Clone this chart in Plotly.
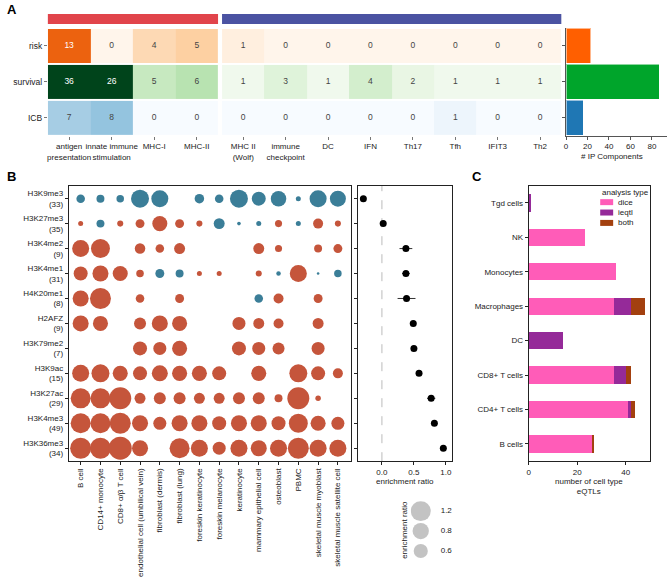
import math
import plotly.graph_objects as go
from plotly.colors import sequential as seq

W, H = 667, 577
FONT = "Liberation Sans, Arial, Helvetica, sans-serif"
INK = "#222222"


def fx(p):
    return p / W


def fy(p):
    return 1 - p / H


def ydom(top, bottom):
    return [fy(bottom), fy(top)]


# ---------------- Panel A data ----------------
sets_left = ["antigen<br>presentation", "innate immune<br>stimulation", "MHC-I", "MHC-II"]
sets_right = ["MHC II<br>(Wolf)", "immune<br>checkpoint", "DC", "IFN", "Th17", "Tfh", "IFIT3", "Th2"]
analyses = ["risk", "survival", "ICB"]
risk_counts = [13, 0, 4, 5, 1, 0, 0, 0, 0, 0, 0, 0]
survival_counts = [36, 26, 5, 6, 1, 3, 1, 4, 2, 1, 1, 1]
icb_counts = [7, 8, 0, 0, 0, 0, 0, 0, 0, 1, 0, 0]
analysis_colors = ["#ff5f00", "#00a52b", "#1f77b4"]
group_colors = ["#e1444b", "#4b53a2"]
ip_ticks = [0, 20, 40, 60, 80]

# ---------------- Panel B data ----------------
marks = ["H3K9me3", "H3K27me3", "H3K4me2", "H3K4me1", "H4K20me1", "H2AFZ",
         "H3K79me2", "H3K9ac", "H3K27ac", "H3K4me3", "H3K36me3"]
mark_counts = [33, 35, 9, 31, 8, 9, 7, 15, 29, 49, 34]
cell_types = ["B cell", "CD14+ monocyte", "CD8+ α/β T cell", "endothelial cell (umbilical vein)",
              "fibroblast (dermis)", "fibroblast (lung)", "foreskin keratinocyte", "foreskin melanocyte",
              "keratinocyte", "mammary epithelial cell", "osteoblast", "PBMC",
              "skeletal muscle myoblast", "skeletal muscle satellite cell"]
N = None
ratio_H3K9me3 = [-0.22, -0.19, -0.17, -0.97, -0.87, N, -0.27, -0.22, -0.97, -0.59, -0.72, -0.075, -0.87, -0.77]
ratio_H3K27me3 = [0.075, -0.19, 0.11, 0.24, 0.68, 0.24, 0.11, -0.36, -0.04, -0.075, 0.15, -0.075, 0.30, 0.11]
ratio_H3K4me2 = [0.87, 1.08, N, 0.33, 0.22, 0.36, N, N, N, 0.36, 0.15, N, 0.19, 0.24]
ratio_H3K4me1 = [0.59, 0.77, 0.68, 0.17, -0.24, -0.19, 0.075, 0.075, N, 0.11, -0.06, 0.87, -0.02, -0.17]
ratio_H4K20me1 = [0.77, 1.32, N, 0.22, N, 0.24, N, N, N, -0.22, 0.30, N, 0.24, N]
ratio_H2AFZ = [0.77, 0.68, N, 0.43, 0.77, 0.68, N, N, 0.51, 0.36, 0.30, N, 0.36, N]
ratio_H3K79me2 = [N, N, N, 0.59, 0.51, 0.68, N, N, 0.59, 0.51, 0.43, N, 0.51, N]
ratio_H3K9ac = [0.87, 0.97, 0.68, 0.59, 0.77, 0.68, 0.68, 0.59, N, 0.68, N, 0.97, 0.59, 0.30]
ratio_H3K27ac = [1.2, 1.2, 1.45, 0.36, 0.43, 0.43, 0.36, 0.36, 0.43, 0.43, 0.19, 1.45, 0.09, N]
ratio_H3K4me3 = [1.2, 1.2, 1.32, 0.77, 0.51, 0.77, 0.77, 0.59, 0.77, 0.77, 0.59, 1.08, 0.68, 0.51]
ratio_H3K36me3 = [1.32, 1.32, 1.59, 0.77, N, 1.2, 0.87, 0.51, 0.87, 0.77, 0.87, 1.32, 0.87, 0.87]
ratio_rows = [ratio_H3K9me3, ratio_H3K27me3, ratio_H3K4me2, ratio_H3K4me1, ratio_H4K20me1,
              ratio_H2AFZ, ratio_H3K79me2, ratio_H3K9ac, ratio_H3K27ac, ratio_H3K4me3, ratio_H3K36me3]
enrichment = [-0.29, 0.02, 0.375, 0.375, 0.385, 0.49, 0.50, 0.58, 0.77, 0.82, 0.96]
enrichment_err = [0.02, 0.02, 0.10, 0.06, 0.14, 0.03, 0.03, 0.03, 0.065, 0.03, 0.02]
legend_ratios = [1.2, 0.8, 0.6]
enrich_ticks = [0.0, 0.5, 1.0]

# ---------------- Panel C data ----------------
immune_cells = ["Tgd cells", "NK", "Monocytes", "Macrophages", "DC", "CD8+ T cells", "CD4+ T cells", "B cells"]
analysis_types = ["dice", "ieqtl", "both"]
dice_counts = [0, 23, 36, 35, 0, 35, 41, 26]
ieqtl_counts = [1, 0, 0, 7, 14, 5, 1, 0]
both_counts = [0, 0, 0, 6, 0, 2, 2, 1]
type_colors = ["#ff5cb8", "#952a99", "#a3400f"]
eqtl_ticks = [0, 20, 40]

RED = "#c5553b"
TEAL = "#3b7e98"


def dot_diam(r):
    return 20.0 * math.sqrt(abs(r) / 1.2)


fig = go.Figure()

# ---------- A: heatmaps ----------
ZMAX = 20
row_specs = [(analyses[0], risk_counts, seq.Oranges, 2),
             (analyses[1], survival_counts, seq.Greens, 1),
             (analyses[2], icb_counts, seq.Blues, 0)]
for name, vals, cmap, yi in row_specs:
    cs = [[i / (len(cmap) - 1), c] for i, c in enumerate(cmap)]
    for xa, cats, part in (("x", sets_left, vals[:4]), ("x2", sets_right, vals[4:])):
        fig.add_trace(go.Heatmap(z=[part], x=cats, y=[yi - 0.5, yi + 0.5], xaxis=xa, yaxis="y",
                                 colorscale=cs, zmin=0, zmax=ZMAX, showscale=False, ygap=2,
                                 name=name, hoverinfo="z"))
        fig.add_trace(go.Scatter(x=cats, y=[yi] * len(cats), mode="text",
                                 text=[str(v) for v in part], xaxis=xa, yaxis="y",
                                 textfont=dict(size=8.5, family=FONT,
                                               color=["white" if v / ZMAX > 0.55 else "#444444" for v in part]),
                                 showlegend=False, hoverinfo="skip"))

totals = [sum(risk_counts), sum(survival_counts), sum(icb_counts)]
fig.add_trace(go.Bar(x=totals, y=[2, 1, 0], orientation="h", xaxis="x3", yaxis="y2", width=0.97,
                     marker=dict(color=analysis_colors, line=dict(color="rgba(255,255,255,0.55)", width=1)),
                     showlegend=False))

# ---------- B: dot plot ----------
xs, ys, ss, cc = [], [], [], []
for i, row in enumerate(ratio_rows):
    for j, v in enumerate(row):
        if v is None:
            continue
        xs.append(j)
        ys.append(i)
        ss.append(dot_diam(v))
        cc.append(RED if v > 0 else TEAL)
fig.add_trace(go.Scatter(x=xs, y=ys, mode="markers", xaxis="x4", yaxis="y4",
                         marker=dict(size=ss, color=cc, line=dict(width=0), opacity=1),
                         showlegend=False))

fig.add_trace(go.Scatter(x=enrichment, y=list(range(len(marks))), mode="markers", xaxis="x5", yaxis="y5",
                         marker=dict(size=7, color="black"),
                         error_x=dict(type="data", array=enrichment_err, thickness=1, width=0, color="#333333"),
                         showlegend=False))

# size legend
fig.add_trace(go.Scatter(x=[0] * len(legend_ratios), y=list(range(len(legend_ratios))), mode="markers",
                         xaxis="x6", yaxis="y6",
                         marker=dict(size=[dot_diam(r) for r in legend_ratios], color="#a9a9a9", line=dict(width=0)),
                         showlegend=False, hoverinfo="skip"))
fig.add_trace(go.Scatter(x=[1] * len(legend_ratios), y=list(range(len(legend_ratios))), mode="text",
                         text=[str(r) for r in legend_ratios], textposition="middle right",
                         textfont=dict(size=8, color=INK, family=FONT),
                         xaxis="x6", yaxis="y6", showlegend=False, hoverinfo="skip"))

# ---------- C: stacked bars ----------
for name, vals, col in zip(analysis_types, [dice_counts, ieqtl_counts, both_counts], type_colors):
    fig.add_trace(go.Bar(x=vals, y=immune_cells, orientation="h", name=name, xaxis="x7", yaxis="y7",
                         width=0.5, marker=dict(color=col, line=dict(width=0)), showlegend=False))

base = dict(showgrid=False, zeroline=False, ticks="outside", ticklen=3, tickwidth=1, tickcolor=INK,
            linecolor=INK, linewidth=1, tickfont=dict(size=8, color=INK, family=FONT))

A_dom = ydom(28, 136)
B_dom = ydom(186, 462)

layout = dict(
    width=W, height=H, margin=dict(l=0, r=0, t=0, b=0),
    paper_bgcolor="white", plot_bgcolor="rgba(0,0,0,0)",
    font=dict(family=FONT, size=8, color=INK),
    barmode="stack", showlegend=False,
    # A heatmap
    xaxis=dict(base, domain=[fx(46), fx(216.7)], anchor="y", type="category", range=[-0.5, 3.5],
               showline=False, tickcolor="#777777", tickangle=0),
    xaxis2=dict(base, domain=[fx(220.7), fx(561)], anchor="y", type="category", range=[-0.5, 7.5],
                showline=False, tickcolor="#777777", tickangle=0),
    yaxis=dict(base, domain=A_dom, anchor="x", range=[-0.5, 2.5], tickvals=[2, 1, 0], ticktext=analyses,
               showline=False, tickcolor="#777777", tickfont=dict(size=8.5, color=INK, family=FONT)),
    # A bars
    xaxis3=dict(base, domain=[fx(565.7), 1.0], anchor="y2", range=[0, 94], tickvals=ip_ticks, showline=True,
                linecolor="#555555", tickcolor="#555555", tickangle=0),
    yaxis2=dict(base, domain=A_dom, anchor="x3", range=[-0.5, 2.5], tickvals=[0, 1, 2], showticklabels=False,
                showline=True, linecolor="#555555", tickcolor="#555555"),
    # B dot plot
    xaxis4=dict(base, domain=[fx(67), fx(350)], anchor="y4", range=[-0.6, 13.66],
                tickvals=list(range(len(cell_types))), ticktext=cell_types, tickangle=-90,
                showline=True, mirror=True),
    yaxis4=dict(base, domain=B_dom, anchor="x4", range=[10.52, -0.52],
                tickvals=list(range(len(marks))),
                ticktext=[f"{m}<br>({c})" for m, c in zip(marks, mark_counts)],
                showline=True, mirror=True),
    xaxis5=dict(base, domain=[fx(357), fx(451)], anchor="y5", range=[-0.375, 1.09],
                tickvals=enrich_ticks, ticktext=[f"{t:.1f}" for t in enrich_ticks],
                showline=True, mirror=True, tickangle=0),
    yaxis5=dict(base, domain=B_dom, anchor="x5", range=[10.52, -0.52], tickvals=list(range(len(marks))),
                showticklabels=False, showline=True, mirror=True),
    xaxis6=dict(domain=[fx(410), fx(470)], anchor="y6", range=[-0.5, 2.5], visible=False),
    yaxis6=dict(domain=ydom(502, 562), anchor="x6", range=[2.5, -0.5], visible=False),
    # C
    xaxis7=dict(base, domain=[fx(528.3), fx(650)], anchor="y7", range=[0, 50], tickvals=eqtl_ticks,
                showline=True, mirror=True, tickangle=0),
    yaxis7=dict(base, domain=B_dom, anchor="x7", type="category", categoryorder="array",
                categoryarray=immune_cells, range=[7.5, -0.5], showline=True, mirror=True),
)
fig.update_layout(**layout)

shapes = [
    dict(type="rect", xref="x domain", yref="paper", x0=0, x1=1, y0=fy(24), y1=fy(14),
         fillcolor=group_colors[0], line=dict(width=0)),
    dict(type="rect", xref="x2 domain", yref="paper", x0=0, x1=1, y0=fy(24), y1=fy(14),
         fillcolor=group_colors[1], line=dict(width=0)),
    dict(type="line", xref="x5", yref="y5 domain", x0=0, x1=0, y0=0, y1=1,
         line=dict(color="#bbbbbb", width=1, dash="dash"), layer="below"),
]


def note(text, x, y, size=8, xanchor="center", angle=0, color=INK):
    return dict(text=text, x=fx(x), y=fy(y), xref="paper", yref="paper", xanchor=xanchor, yanchor="middle",
                showarrow=False, textangle=angle, font=dict(size=size, color=color, family=FONT))


annotations = [
    note("<b>A</b>", 3, 10, size=13, xanchor="left", color="black"),
    note("<b>B</b>", 3, 177, size=13, xanchor="left", color="black"),
    note("<b>C</b>", 469, 177, size=13, xanchor="left", color="black"),
    note("# IP Components", 612, 157),
    note("enrichment ratio", 404, 482),
    note("number of cell type<br>eQTLs", 589, 487),
    note("enrichment ratio", 403, 531, angle=-90),
    note("analysis type", 600, 193, xanchor="left"),
]
for i, (name, col) in enumerate(zip(analysis_types, type_colors)):
    cy = 202.5 + 10.4 * i
    shapes.append(dict(type="rect", xref="paper", yref="paper", x0=fx(600), x1=fx(613),
                       y0=fy(cy + 3), y1=fy(cy - 3), fillcolor=col, line=dict(width=0)))
    annotations.append(note(name, 616, cy, xanchor="left"))

fig.update_layout(shapes=shapes, annotations=annotations)
fig.write_html("out.html", config={"displayModeBar": False},
               post_script="document.body.style.margin='0';document.body.style.overflow='hidden';")
